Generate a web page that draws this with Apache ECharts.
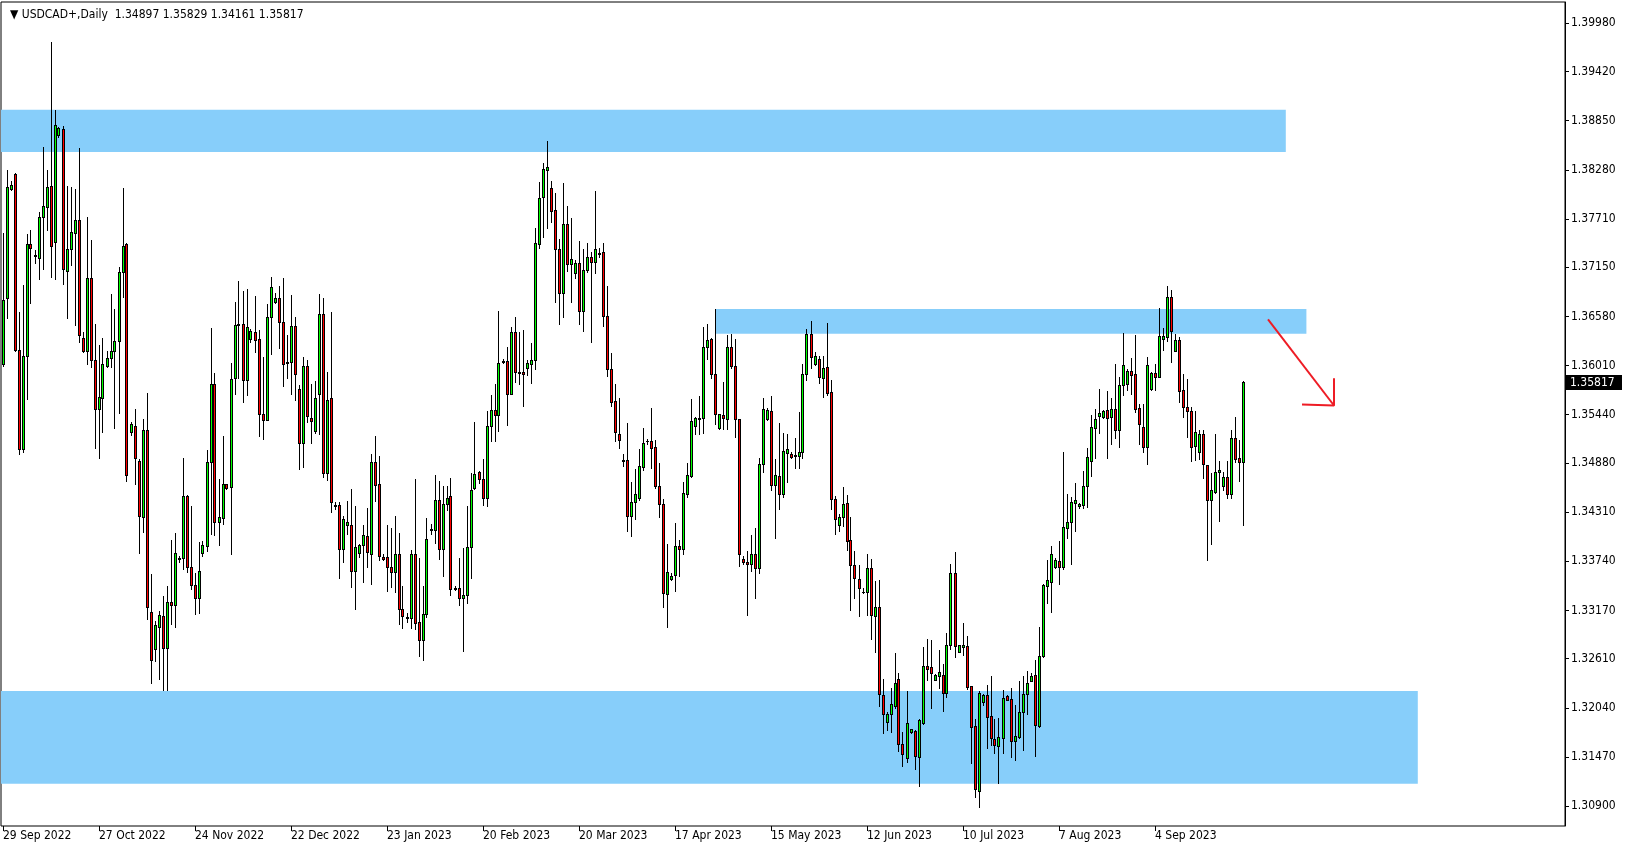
<!DOCTYPE html>
<html><head><meta charset="utf-8">
<script src="https://cdn.jsdelivr.net/npm/echarts@6/dist/echarts.min.js"></script>
<style>html,body{margin:0;padding:0;background:#fff}#c{width:1629px;height:850px}</style>
</head><body><div id="c"></div>
<script>
// ---- data (USDCAD+, Daily) ----
const opens = [
1.36029,1.36799,1.38061,1.38227,1.36195,1.35038,1.36120,1.37422,1.37291,1.37261,
1.37739,1.37855,1.38091,1.37442,1.38690,1.38750,1.37111,1.37367,1.37543,1.37699,
1.36326,1.36180,1.37030,1.36079,1.35511,1.35637,1.36009,1.36094,1.36175,1.36291,
1.37100,1.37417,1.35244,1.35315,1.34908,1.34254,1.35260,1.33157,1.32720,1.32981,
1.33102,1.32740,1.33273,1.33228,1.33781,1.33782,1.34494,1.33671,1.33462,1.33319,
1.33841,1.33914,1.34888,1.35793,1.34200,1.34247,1.34633,1.34598,1.35863,1.36485,
1.36493,1.35847,1.36323,1.36396,1.36315,1.35449,1.35379,1.36570,1.36744,1.36790,
1.36512,1.36035,1.36048,1.36466,1.35735,1.35109,1.36002,1.35399,1.35256,1.35677,
1.36605,1.34761,1.35631,1.34390,1.34390,1.33887,1.34158,1.34158,1.33624,1.33833,
1.33926,1.34030,1.33830,1.34889,1.34637,1.33786,1.33786,1.33679,1.33619,1.33822,
1.33187,1.33095,1.33087,1.33822,1.33032,1.32832,1.33127,1.34106,1.34102,1.34449,
1.33886,1.34402,1.34493,1.33427,1.33427,1.33311,1.33347,1.33902,1.34589,1.34781,
1.34693,1.34469,1.35308,1.35496,1.35432,1.36063,1.36059,1.35684,1.36395,1.35935,
1.35931,1.35987,1.36023,1.36071,1.37417,1.37960,1.38275,1.38066,1.37811,1.37359,
1.36856,1.37649,1.37193,1.37081,1.37197,1.36640,1.37115,1.37266,1.37208,1.37313,
1.37324,1.36582,1.35967,1.35600,1.35213,1.34912,1.34916,1.34270,1.34425,1.34471,
1.34831,1.35140,1.35136,1.35063,1.34618,1.34401,1.33358,1.33532,1.33582,1.33918,
1.33880,1.34517,1.34730,1.35310,1.35403,1.35399,1.36222,1.36319,1.35909,1.35283,
1.35433,1.35387,1.36222,1.36002,1.35387,1.33767,1.33736,1.33705,1.33821,1.33667,
1.34865,1.35387,1.35480,1.34622,1.34726,1.34517,1.35000,1.34985,1.34973,1.34966,
1.35004,1.35909,1.36373,1.36025,1.36083,1.35863,1.35990,1.35700,1.34459,1.34162,
1.34250,1.34413,1.33984,1.33694,1.33531,1.33388,1.33384,1.33659,1.33106,1.33207,
1.32190,1.31873,1.31964,1.32066,1.32380,1.31618,1.31463,1.31764,1.31776,1.31475,
1.31869,1.32522,1.32510,1.32367,1.32414,1.32418,1.32217,1.32766,1.33601,1.32692,
1.32746,1.32754,1.32290,1.31830,1.31080,1.32112,1.32186,1.31946,1.31675,1.31598,
1.31687,1.32174,1.32139,1.31652,1.31703,1.31989,1.32201,1.32352,1.32418,1.31834,
1.32638,1.33458,1.33504,1.33678,1.33740,1.33674,1.34123,1.34192,1.34420,1.34378,
1.34393,1.34610,1.34900,1.35290,1.35422,1.35410,1.35495,1.35410,1.35503,1.35260,
1.35781,1.35793,1.35944,1.35909,1.35515,1.35294,1.35070,1.35735,1.35921,1.35882,
1.36315,1.36346,1.36802,1.36183,1.36307,1.35727,1.35526,1.35484,1.35082,1.35004,
1.35213,1.34854,1.34448,1.34548,1.34772,1.34618,1.34714,1.34525,1.35167,1.34939,1.34897
];
const highs = [
1.37548,1.38282,1.38147,1.38247,1.36627,1.36944,1.37538,1.37588,1.37352,1.37789,
1.38544,1.38282,1.39761,1.38977,1.38775,1.38785,1.38091,1.38081,1.38056,1.38534,
1.36396,1.37729,1.37463,1.36492,1.36250,1.36326,1.36180,1.36839,1.36668,1.37156,
1.38071,1.37437,1.35350,1.35506,1.34923,1.35395,1.35692,1.33595,1.33052,1.33162,
1.33338,1.33454,1.33987,1.34067,1.33796,1.34935,1.34510,1.34382,1.33605,1.33961,
1.33980,1.35031,1.36443,1.35921,1.34699,1.35194,1.34637,1.36037,1.36752,1.36988,
1.36876,1.36895,1.36431,1.36818,1.36423,1.36110,1.36725,1.37034,1.36852,1.36933,
1.37022,1.36365,1.36829,1.36570,1.35785,1.36110,1.36075,1.35793,1.35832,1.36841,
1.36790,1.35936,1.36628,1.34424,1.34424,1.34270,1.34440,1.34579,1.34382,1.33937,
1.34158,1.34355,1.34985,1.35192,1.34961,1.33822,1.34162,1.34126,1.34266,1.34070,
1.33451,1.33139,1.33870,1.34697,1.33779,1.33451,1.34242,1.34170,1.34741,1.34673,
1.34613,1.34613,1.34709,1.33451,1.33779,1.33890,1.34381,1.34769,1.35356,1.34789,
1.34929,1.35480,1.35672,1.35791,1.36638,1.36087,1.36227,1.36462,1.36570,1.36399,
1.36423,1.36075,1.36271,1.37609,1.38140,1.38360,1.38620,1.38151,1.38008,1.37483,
1.38124,1.37858,1.37718,1.37235,1.37456,1.37363,1.37432,1.37324,1.38035,1.37370,
1.37428,1.36934,1.36156,1.35797,1.35635,1.34981,1.35345,1.34664,1.34811,1.35043,
1.35287,1.35159,1.35519,1.35144,1.34877,1.34459,1.33937,1.33601,1.34181,1.33988,
1.34664,1.34877,1.35623,1.35410,1.35658,1.36462,1.36489,1.36327,1.36667,1.35453,
1.35816,1.36365,1.36377,1.36315,1.35395,1.33798,1.33860,1.34045,1.34123,1.34939,
1.35631,1.35515,1.35658,1.34927,1.35341,1.35225,1.35217,1.35004,1.35167,1.35472,
1.36033,1.36435,1.36527,1.36164,1.36122,1.36122,1.36504,1.35843,1.34498,1.34285,
1.34602,1.34509,1.34254,1.33864,1.33698,1.33431,1.33825,1.33767,1.33516,1.33528,
1.32375,1.31997,1.32275,1.32675,1.32440,1.31764,1.32236,1.31795,1.31784,1.31911,
1.32746,1.32835,1.32828,1.32429,1.32712,1.32549,1.32909,1.33713,1.33848,1.32770,
1.33025,1.32874,1.32298,1.31915,1.32240,1.32197,1.32306,1.32410,1.31915,1.31927,
1.32244,1.32190,1.32275,1.32078,1.32352,1.32410,1.32468,1.32445,1.32596,1.32978,
1.33473,1.33755,1.33918,1.33775,1.33976,1.35004,1.34521,1.34482,1.34648,1.34420,
1.34788,1.35051,1.35437,1.35507,1.35739,1.35495,1.35716,1.35638,1.36029,1.35882,
1.36384,1.35971,1.36094,1.36365,1.35565,1.35565,1.36106,1.35932,1.36025,1.36682,
1.36442,1.36933,1.36887,1.36373,1.36346,1.35913,1.35855,1.35530,1.35484,1.35263,
1.35263,1.34861,1.34761,1.35217,1.34904,1.34780,1.34904,1.35263,1.35410,1.35147,1.35829
];
const lows = [
1.36004,1.36557,1.38051,1.36175,1.34988,1.35013,1.35622,1.36733,1.37201,1.37010,
1.37126,1.37578,1.37035,1.37020,1.38665,1.36960,1.36557,1.37171,1.36482,1.36280,
1.36170,1.36029,1.35989,1.35058,1.34933,1.35234,1.35999,1.35989,1.35284,1.35456,
1.36809,1.34666,1.35209,1.34631,1.33841,1.34078,1.33067,1.32332,1.32584,1.32372,
1.32242,1.32252,1.33011,1.32981,1.33736,1.33646,1.33620,1.33419,1.33133,1.33145,
1.33802,1.33864,1.34057,1.34049,1.33933,1.34173,1.34583,1.33825,1.35681,1.35866,
1.35592,1.35669,1.36288,1.36172,1.35198,1.35163,1.35375,1.36149,1.36740,1.36211,
1.35778,1.35870,1.35685,1.35607,1.34815,1.34834,1.35360,1.35116,1.35225,1.35213,
1.34718,1.34683,1.34316,1.34343,1.33543,1.33736,1.34053,1.33439,1.33191,1.33794,
1.33504,1.33671,1.33479,1.34445,1.33751,1.33751,1.33399,1.33447,1.33379,1.33008,
1.32972,1.33039,1.32972,1.32960,1.32644,1.32600,1.33091,1.34062,1.33950,1.33771,
1.33575,1.34330,1.33355,1.33407,1.33231,1.32704,1.33251,1.33551,1.34581,1.34649,
1.34397,1.34385,1.35136,1.35136,1.35256,1.36035,1.35324,1.35676,1.35819,1.35795,
1.35536,1.35899,1.35803,1.35975,1.37377,1.37505,1.37602,1.37672,1.36752,1.36497,
1.36578,1.37112,1.36752,1.37030,1.36497,1.36416,1.37100,1.36288,1.37081,1.37274,
1.36474,1.35894,1.35546,1.35136,1.35059,1.34850,1.34096,1.34038,1.34227,1.34448,
1.34800,1.35105,1.34823,1.34587,1.34258,1.33215,1.32983,1.33524,1.33396,1.33574,
1.33822,1.34486,1.34715,1.35221,1.35213,1.35225,1.36083,1.35870,1.35333,1.35275,
1.35275,1.35271,1.35979,1.35178,1.33690,1.33705,1.33118,1.33632,1.33319,1.33609,
1.34780,1.35383,1.34567,1.34015,1.34351,1.34486,1.34664,1.34935,1.34826,1.34826,
1.34935,1.35843,1.35986,1.36017,1.35812,1.35650,1.35669,1.34343,1.34053,1.34092,
1.34154,1.33875,1.33176,1.33319,1.33110,1.33377,1.33118,1.32835,1.32692,1.32066,
1.31745,1.31784,1.31765,1.32035,1.31540,1.31363,1.31409,1.31749,1.31335,1.31138,
1.31857,1.32367,1.32039,1.32364,1.32275,1.32004,1.32167,1.32727,1.32630,1.32688,
1.32654,1.32263,1.31401,1.31011,1.30895,1.32074,1.31579,1.31610,1.31521,1.31165,
1.31513,1.32128,1.31475,1.31440,1.31695,1.31552,1.31969,1.32348,1.31486,1.31822,
1.32630,1.33261,1.33156,1.33667,1.33481,1.33651,1.34015,1.33705,1.34096,1.34355,
1.34355,1.34374,1.34734,1.34942,1.35225,1.35406,1.34942,1.35105,1.35167,1.35070,
1.35673,1.35731,1.35685,1.35468,1.35105,1.35012,1.34869,1.35727,1.35727,1.35878,
1.36195,1.36299,1.36056,1.36179,1.35592,1.35418,1.35186,1.34908,1.34915,1.34927,
1.34703,1.33756,1.33937,1.34529,1.34208,1.34568,1.34471,1.34471,1.34896,1.34672,1.34161
];
const closes = [
1.36773,1.38076,1.38106,1.36190,1.35038,1.36120,1.37417,1.37377,1.37281,1.37739,
1.37865,1.38081,1.37392,1.38805,1.38765,1.37131,1.37367,1.37558,1.37699,1.36366,
1.36185,1.37030,1.36079,1.35511,1.35642,1.36034,1.36094,1.36175,1.36291,1.37100,
1.37402,1.34736,1.35335,1.34943,1.34269,1.35260,1.33205,1.32594,1.32996,1.33112,
1.32740,1.33273,1.33228,1.33831,1.33771,1.34494,1.33671,1.33462,1.33319,1.33624,
1.33926,1.34888,1.35793,1.34200,1.34254,1.34633,1.34591,1.35851,1.36477,1.36493,
1.35847,1.36454,1.36412,1.36311,1.35453,1.35375,1.36570,1.36918,1.36790,1.36512,
1.36033,1.36050,1.36466,1.35909,1.35116,1.36002,1.35430,1.35372,1.35634,1.36605,
1.34761,1.35607,1.34424,1.34382,1.33887,1.34227,1.34192,1.33624,1.33902,1.33926,
1.34042,1.33845,1.34889,1.34629,1.33798,1.33762,1.33679,1.33611,1.33822,1.33191,
1.33103,1.33087,1.33822,1.33028,1.32832,1.33127,1.33994,1.34114,1.34449,1.33886,
1.34402,1.34469,1.33423,1.33415,1.33311,1.33347,1.33902,1.34565,1.34749,1.34693,
1.34469,1.35308,1.35500,1.35432,1.36035,1.36055,1.35684,1.36395,1.35931,1.35927,
1.35907,1.36039,1.36071,1.37429,1.37956,1.38288,1.38314,1.37807,1.37359,1.36856,
1.37649,1.37193,1.37243,1.37197,1.36640,1.37115,1.37266,1.37208,1.37359,1.37305,
1.36582,1.35967,1.35592,1.35236,1.35144,1.34904,1.34270,1.34425,1.34517,1.34842,
1.35109,1.35132,1.35059,1.34618,1.34401,1.33369,1.33620,1.33574,1.33918,1.33880,
1.34529,1.34742,1.35364,1.35399,1.35395,1.36226,1.36307,1.35909,1.35445,1.35445,
1.35399,1.36222,1.36002,1.35387,1.33829,1.33736,1.33705,1.33821,1.33667,1.34865,
1.35503,1.35491,1.34622,1.34741,1.34517,1.35020,1.35043,1.34950,1.34958,1.35004,
1.35909,1.36373,1.36106,1.36122,1.35882,1.35986,1.35696,1.34459,1.34227,1.34250,
1.34401,1.33970,1.33694,1.33551,1.33435,1.33380,1.33659,1.33114,1.33207,1.32197,
1.31973,1.31970,1.32083,1.32327,1.31618,1.31501,1.31869,1.31791,1.31486,1.31896,
1.32522,1.32491,1.32449,1.32422,1.32452,1.32217,1.32766,1.33601,1.32762,1.32766,
1.32770,1.32282,1.31822,1.31096,1.32209,1.32190,1.31938,1.31687,1.31606,1.31699,
1.32151,1.32136,1.31660,1.31710,1.31989,1.32201,1.32325,1.32406,1.31838,1.32638,
1.33465,1.33520,1.33821,1.33752,1.33671,1.34134,1.34192,1.34424,1.34450,1.34405,
1.34614,1.34950,1.35294,1.35391,1.35460,1.35484,1.35399,1.35503,1.35260,1.35781,
1.36013,1.35944,1.35905,1.35511,1.35337,1.35070,1.36013,1.35921,1.35882,1.36350,
1.36353,1.36802,1.36415,1.36307,1.35720,1.35526,1.35480,1.35062,1.35236,1.35213,
1.34865,1.34448,1.34564,1.34772,1.34796,1.34714,1.34525,1.35167,1.34931,1.34888,1.35817
];
// date labels shown every 24 bars (bars include Sunday sessions)
const dateLabels = ['29 Sep 2022','27 Oct 2022','24 Nov 2022','22 Dec 2022','23 Jan 2023','20 Feb 2023',
  '20 Mar 2023','17 Apr 2023','15 May 2023','12 Jun 2023','10 Jul 2023','7 Aug 2023','4 Sep 2023'];
const priceTicks = [1.39980,1.39420,1.38850,1.38280,1.37710,1.37150,1.36580,1.36010,1.35440,
  1.34880,1.34310,1.33740,1.33170,1.32610,1.32040,1.31470,1.30900];
// zones: [fromBar, toBar, upperPrice, lowerPrice]
const zoneUpper  = [-0.5, 320.7, 1.38977, 1.38488];
const zoneMiddle = [178.0, 325.85, 1.36666, 1.36380];
const zoneLower  = [-0.5, 353.7, 1.32236, 1.31160];
// arrow trend lines: [bar, price]
const arrowShaft = [[316.25, 1.36547], [332.75, 1.35547]];
const arrowHead  = [[324.75, 1.35559], [332.75, 1.35547], [332.75, 1.35863]];

// ---- layout / style constants ----
const SLOTS = 391, LABEL_STEP = 24;
const FONT = "'DejaVu Sans Condensed', 'DejaVu Sans', sans-serif";
const priceMin = 1.306701, priceMax = 1.402270;
const BULL = '#00FF00', BEAR = '#FF0000';

const slots = Array.from({length: SLOTS}, (_, i) => String(i));
const candleData = opens.map((o, i) => [i, o, closes[i], lows[i], highs[i]]);
const n = opens.length - 1;
const lastClose = closes[n];
const titleText = '▼ USDCAD+,Daily  ' + [opens[n], highs[n], lows[n], closes[n]].map(v => v.toFixed(5)).join(' ');

function zoneArea(z) {
  return [{ coord: [z[0], z[2]] }, { coord: [z[1], z[3]] }];
}
const showAt = (i) => i % LABEL_STEP === 0 && i / LABEL_STEP < dateLabels.length;

function renderCandle(params, api) {
  const i = api.value(0), o = api.value(1), c = api.value(2), l = api.value(3), h = api.value(4);
  const pO = api.coord([i, o]), pC = api.coord([i, c]), pH = api.coord([i, h]), pL = api.coord([i, l]);
  const x0 = Math.floor(pO[0]);
  const yH = Math.round(pH[1]), yL = Math.round(pL[1]);
  const top = Math.round(Math.min(pO[1], pC[1])), bot = Math.round(Math.max(pO[1], pC[1]));
  const children = [
    { type: 'rect', shape: { x: x0, y: yH, width: 1, height: Math.max(yL - yH + 1, 1) }, style: { fill: '#000' } },
    { type: 'rect', shape: { x: x0 - 1, y: top, width: 3, height: bot - top + 1 }, style: { fill: '#000' } }
  ];
  if (bot - top >= 2) {
    children.push({ type: 'rect', shape: { x: x0, y: top + 1, width: 1, height: bot - top - 1 },
      style: { fill: c >= o ? BULL : BEAR } });
  }
  return { type: 'group', children };
}

const GRID = { left: 1, right: 64, top: 2, bottom: 24 };
const chart = echarts.init(document.getElementById('c'), null, { renderer: 'canvas' });
chart.setOption({
  animation: false,
  backgroundColor: '#ffffff',
  title: {
    text: titleText, left: 5, top: 4,
    textStyle: { fontFamily: FONT, fontSize: 12, fontWeight: 'normal', color: '#000' }
  },
  grid: Object.assign({ show: true, borderColor: '#000', borderWidth: 1, backgroundColor: '#fff' }, GRID),
  xAxis: [{
    type: 'category', data: slots, boundaryGap: true,
    axisLine: { show: false, onZero: false },
    axisTick: { show: true, alignWithLabel: true, interval: (i) => showAt(i), length: 5, lineStyle: { color: '#000' } },
    axisLabel: { interval: (i) => showAt(i), formatter: (v, i) => dateLabels[Math.round(i / LABEL_STEP)] || '',
      align: 'left', margin: 4, fontFamily: FONT, fontSize: 12, color: '#000' },
    splitLine: { show: false }
  }, {
    type: 'value', min: -0.5, max: SLOTS - 0.5, show: false,
    axisLine: { onZero: false }
  }],
  yAxis: [{
    type: 'value', position: 'right', min: priceMin, max: priceMax,
    axisLine: { show: true, onZero: false, lineStyle: { color: '#000' } },
    axisTick: { show: true, customValues: priceTicks, length: 4, lineStyle: { color: '#000' } },
    axisLabel: { customValues: priceTicks, formatter: (v) => v.toFixed(5), margin: 6, fontFamily: FONT, fontSize: 12, color: '#000' },
    splitLine: { show: false }
  }],
  series: [{
    type: 'custom', xAxisIndex: 0, yAxisIndex: 0, z: 5, clip: true,
    data: candleData, encode: { x: 0, y: [1, 2, 3, 4] },
    renderItem: renderCandle
  }, {
    type: 'line', xAxisIndex: 1, yAxisIndex: 0, z: 1, data: arrowShaft,
    symbol: 'none', lineStyle: { color: '#EE1C25', width: 2 },
    markArea: { silent: true, itemStyle: { color: '#87CEFA' }, data: [zoneArea(zoneUpper), zoneArea(zoneMiddle), zoneArea(zoneLower)] }
  }, {
    type: 'line', xAxisIndex: 1, yAxisIndex: 0, z: 1, data: arrowHead,
    symbol: 'none', lineStyle: { color: '#EE1C25', width: 2 }
  }]
});

// current price tag on the price scale, positioned through the y axis scale
const yLast = chart.convertToPixel({ yAxisIndex: 0 }, lastClose);
const axisX = chart.getWidth() - GRID.right;
chart.setOption({
  graphic: [{
    type: 'rect', z: 100, shape: { x: axisX, y: Math.round(yLast) - 7, width: 57, height: 15 }, style: { fill: '#000' }
  }, {
    type: 'text', z: 101, x: axisX + 5, y: Math.round(yLast) + 1,
    style: { text: lastClose.toFixed(5), fill: '#fff', fontFamily: FONT, fontSize: 12, verticalAlign: 'middle', align: 'left' }
  }]
});
</script>
</body></html>
